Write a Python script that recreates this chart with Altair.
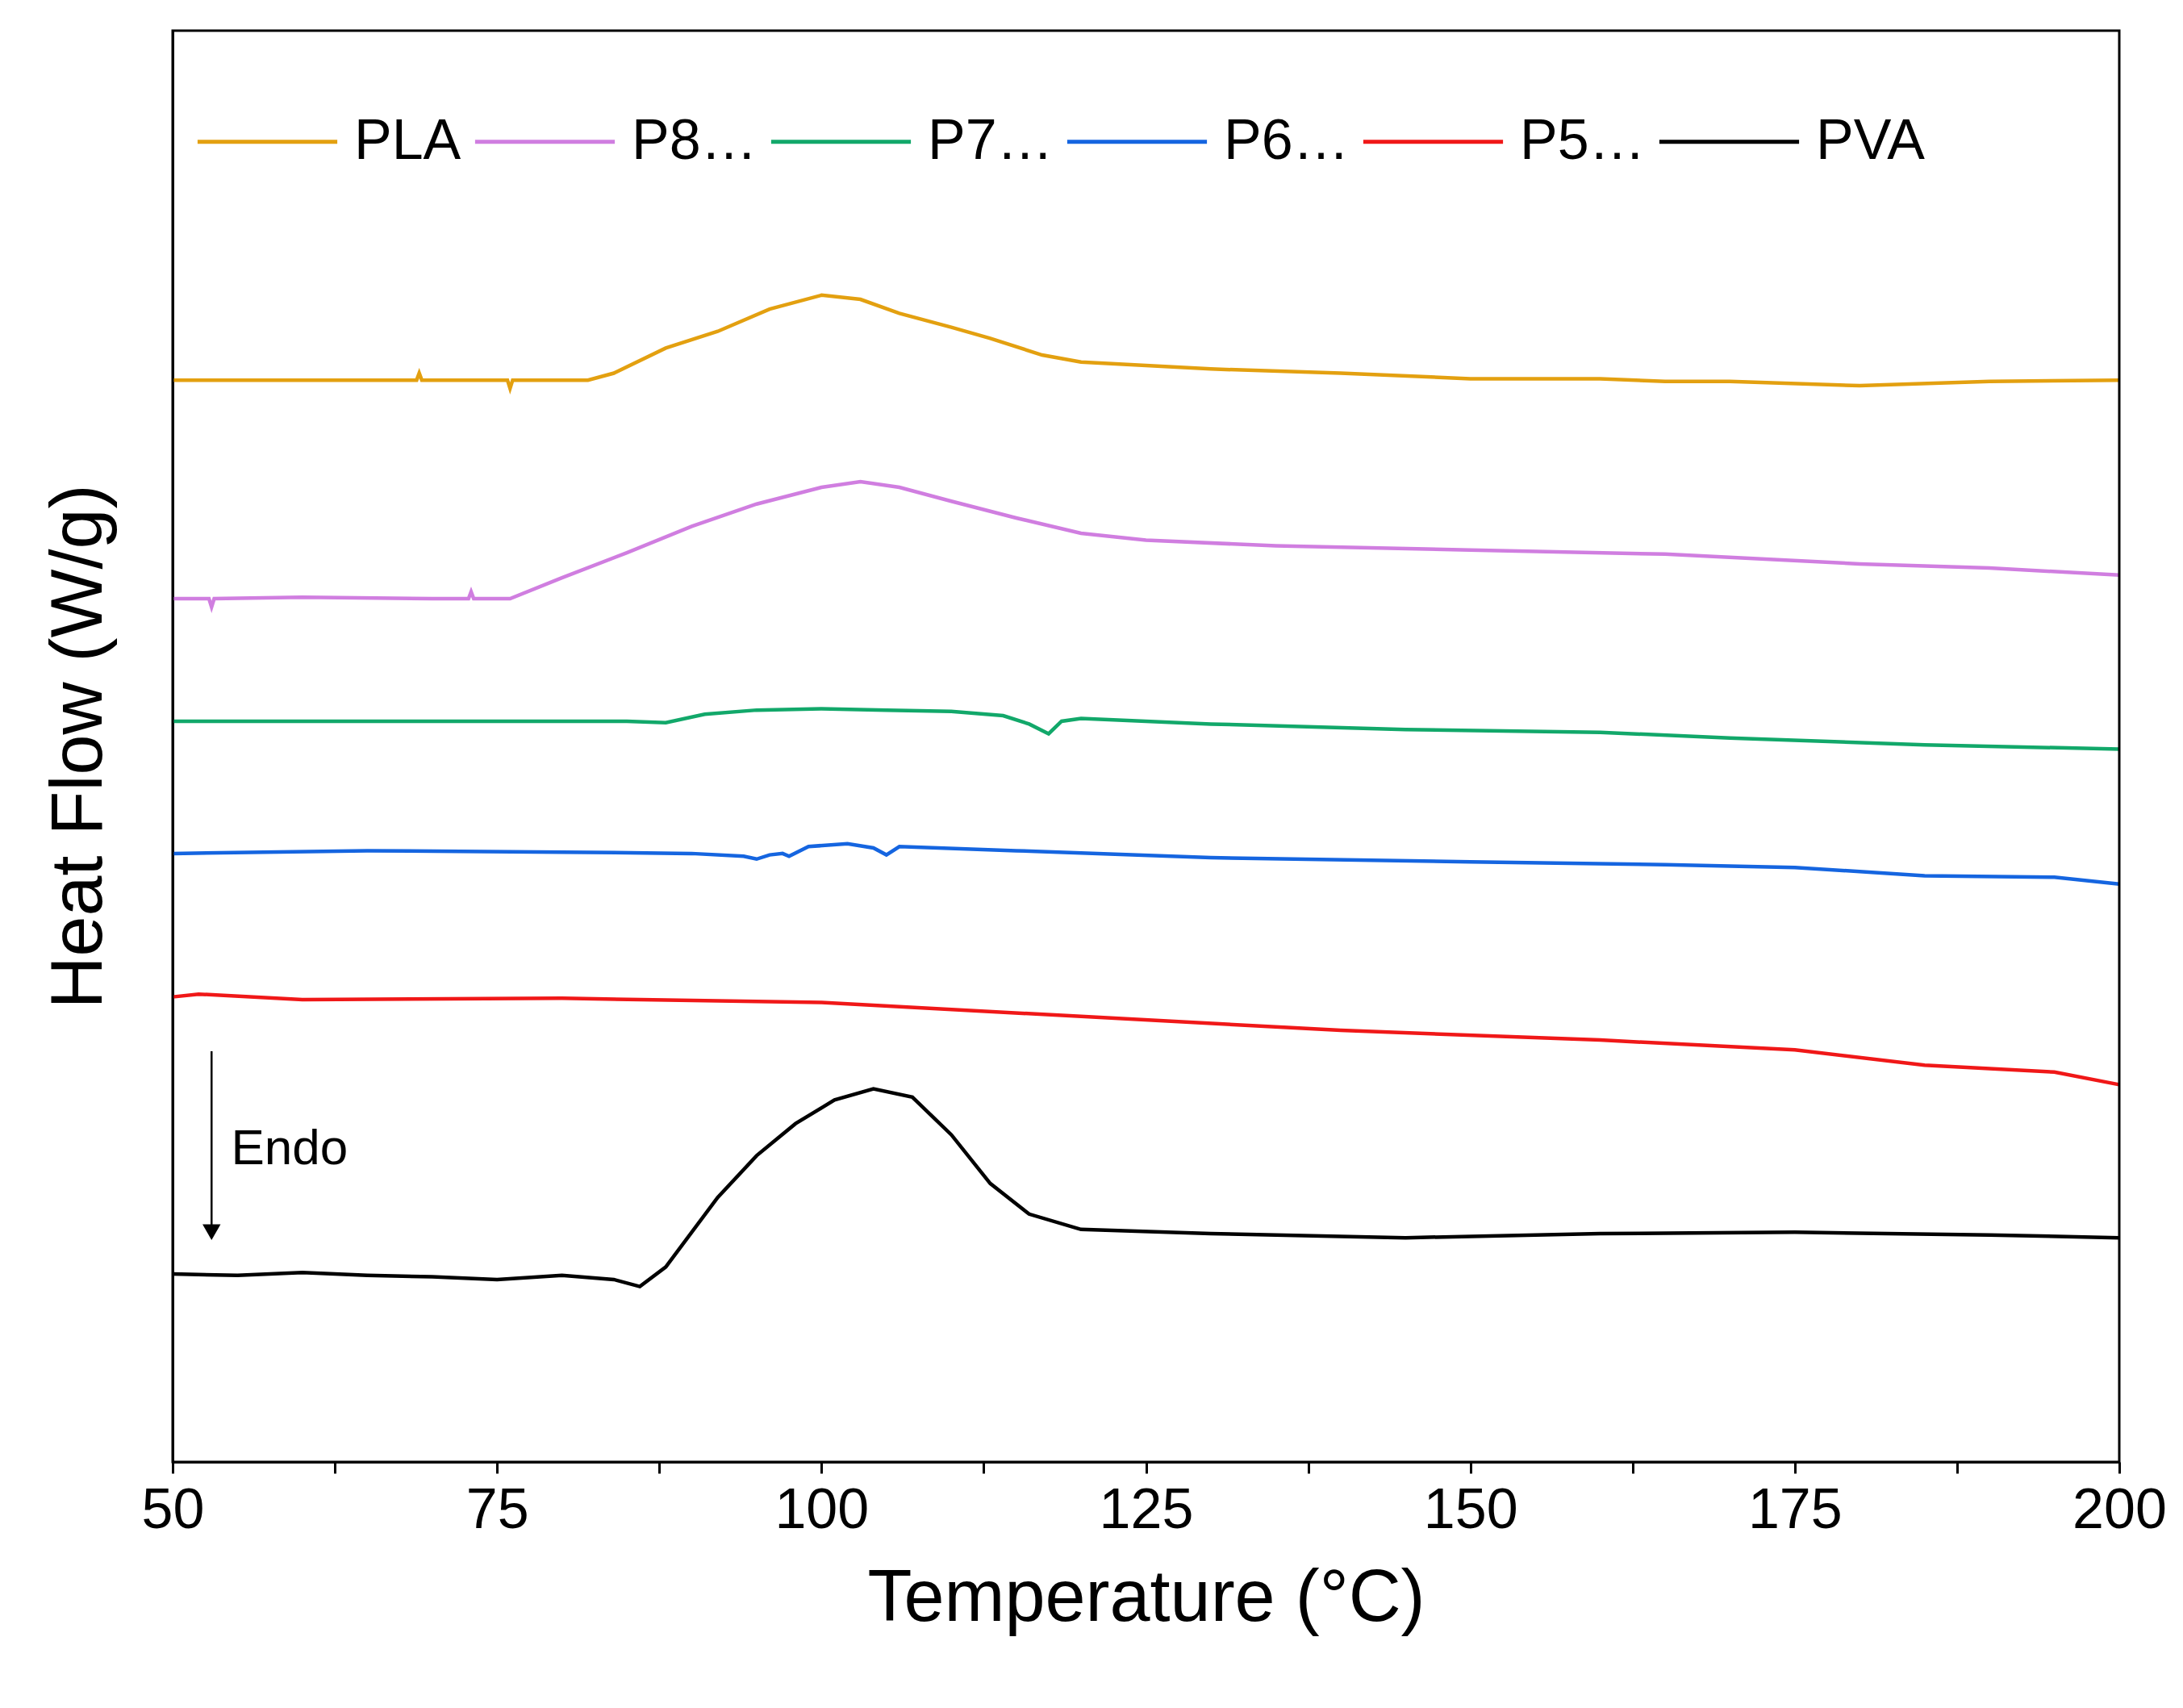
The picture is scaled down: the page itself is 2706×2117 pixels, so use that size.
import pandas as pd
import altair as alt

# readings; y is in arbitrary offset units (plot top = 1028)
series = ["PLA", "P8A2", "P7A3", "P6A4", "P5A5", "PVA"]
colors = ["#E3A010", "#D07EE0", "#12A86A", "#1565E0", "#F01818", "#000000"]

pla_t = [50, 60, 68.8, 69, 69.2, 75.8, 76, 76.2, 82, 84, 88, 92, 96, 100, 103, 106, 110, 113, 117, 120, 130, 140, 150, 160, 165, 170, 180, 190, 200]
pla_y = [273, 273, 273, 268, 273, 273, 279, 273, 273, 268, 250, 238, 222, 212, 215, 225, 235, 243, 255, 260, 265, 268, 272, 272, 274, 274, 277, 274, 273]
p82_t = [50, 52.8, 53, 53.2, 60, 70, 72.8, 73, 73.2, 76, 80, 85, 90, 95, 100, 103, 106, 110, 115, 120, 125, 135, 150, 165, 180, 190, 200]
p82_y = [430, 430, 436, 430, 429, 430, 430, 425, 430, 430, 415, 397, 378, 362, 350, 346, 350, 360, 372, 383, 388, 392, 395, 398, 405, 408, 413]
p73_t = [50, 60, 75, 85, 88, 91, 95, 100, 105, 110, 114, 116, 117.5, 118.5, 120, 130, 145, 160, 170, 185, 200]
p73_y = [518, 518, 518, 518, 519, 513, 510, 509, 510, 511, 514, 520, 527, 518, 516, 520, 524, 526, 530, 535, 538]
p64_t = [50, 65, 80, 90, 94, 95, 96, 97, 97.5, 99, 102, 104, 105, 106, 115, 130, 150, 165, 175, 185, 195, 200]
p64_y = [613, 611, 612, 613, 615, 617, 614, 613, 615, 608, 606, 609, 614, 608, 611, 616, 619, 621, 623, 629, 630, 635]
p55_t = [50, 52, 60, 80, 100, 120, 140, 160, 175, 185, 195, 200]
p55_y = [716, 714, 718, 717, 720, 730, 740, 747, 754, 765, 770, 779]
pva_t = [50, 55, 60, 65, 70, 75, 80, 84, 86, 88, 92, 95, 98, 101, 104, 107, 110, 113, 116, 120, 130, 145, 160, 175, 190, 200]
pva_y = [915, 916, 914, 916, 917, 919, 916, 919, 924, 910, 860, 830, 807, 790, 782, 788, 815, 850, 872, 883, 886, 889, 886, 885, 887, 889]

tvals = [pla_t, p82_t, p73_t, p64_t, p55_t, pva_t]
yvals = [pla_y, p82_y, p73_y, p64_y, p55_y, pva_y]

rows = []
for name, ts, ys in zip(series, tvals, yvals):
    for i, (t, y) in enumerate(zip(ts, ys)):
        rows.append({"s": name, "t": t, "y": 1050 - y, "o": i})
df = pd.DataFrame(rows)

W, H = 2413, 1774
font = "Liberation Sans"
xscale = alt.Scale(domain=[50, 200], nice=False)
yscale = alt.Scale(domain=[0, 1028], nice=False)

lines = alt.Chart(df).mark_line(strokeWidth=4.5).encode(
    x=alt.X("t:Q", scale=xscale, title="Temperature (°C)",
            axis=alt.Axis(values=[50 + 12.5 * i for i in range(13)],
                          labelExpr="datum.value % 25 == 0 ? datum.label : ''",
                          labelFlush=False,
                          grid=False, domainColor="black", tickColor="black",
                          tickSize=14, tickWidth=3, domainWidth=3,
                          labelFontSize=70, titleFontSize=90, labelPadding=12,
                          titlePadding=30, labelFont=font, titleFont=font,
                          labelColor="black", titleColor="black", titleFontWeight="normal")),
    y=alt.Y("y:Q", scale=yscale, title="Heat Flow (W/g)",
            axis=alt.Axis(labels=False, ticks=False, grid=False, domainColor="black",
                          domainWidth=3, titleFontSize=90, titleFont=font,
                          titleColor="black", titleFontWeight="normal", titlePadding=70)),
    color=alt.Color("s:N", sort=series,
                    scale=alt.Scale(domain=series, range=colors),
                    legend=alt.Legend(title=None, orient="none", legendX=28, legendY=48,
                                      direction="horizontal", columns=6,
                                      symbolType="stroke", symbolSize=30000,
                                      symbolStrokeWidth=5, labelFontSize=70,
                                      labelFont=font, labelColor="black",
                                      columnPadding=6, labelOffset=18)),
    order="o:Q",
)

frame = alt.Chart(pd.DataFrame({"a": [0]})).mark_rect(
    fill=None, stroke="black", strokeWidth=3).encode(
    x=alt.value(0), x2=alt.value(W), y=alt.value(0), y2=alt.value(H))

arrow_df = pd.DataFrame({"t": [53.0], "y1": [1050 - 755], "y2": [1050 - 885],
                         "yh": [1050 - 885], "tt": [54.5], "ty": [1050 - 825], "lab": ["Endo"]})
arrow = alt.Chart(arrow_df).mark_rule(color="black", strokeWidth=2.5).encode(
    x="t:Q", y="y1:Q", y2="y2:Q")
head = alt.Chart(arrow_df).mark_point(shape="triangle-down", filled=True, color="black",
                                      size=500, opacity=1).encode(x="t:Q", y="yh:Q")
label = alt.Chart(arrow_df).mark_text(align="left", fontSize=62, font=font, color="black").encode(
    x="tt:Q", y="ty:Q", text="lab:N")

chart = (lines + arrow + head + label + frame).properties(
    width=W, height=H,
    autosize=alt.AutoSizeParams(type="none"),
    padding={"left": 206, "top": 30, "right": 70, "bottom": 290},
).configure_view(stroke=None).configure(background="white")

chart.save("out.html", embed_options={"renderer": "svg", "actions": False})
